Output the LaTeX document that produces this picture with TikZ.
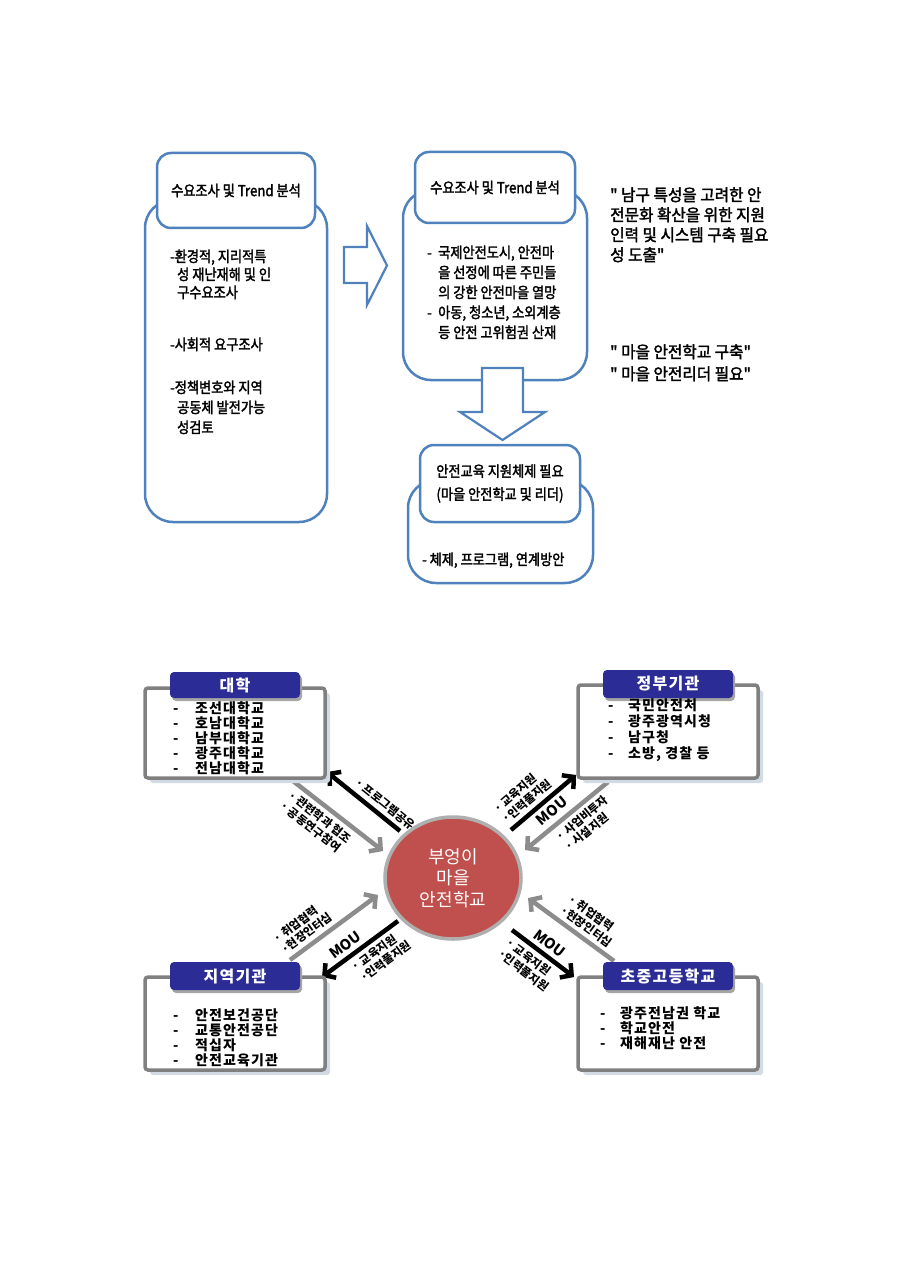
\documentclass[tikz,border=0pt]{standalone}
\usepackage{fontspec}
\setmainfont{Noto Sans CJK KR}
\newfontfamily\krn[FakeStretch=0.88,FakeBold=2]{Noto Sans CJK KR}
\newfontfamily\krq[FakeStretch=0.95,FakeBold=2]{Noto Sans CJK KR}
\newfontfamily\krsp[LetterSpace=8]{Noto Sans CJK KR}
\usetikzlibrary{arrows.meta,shapes.geometric}
\definecolor{topblue}{RGB}{79,129,189}
\definecolor{navy}{RGB}{44,44,150}
\definecolor{boxgray}{RGB}{128,128,128}
\definecolor{arrowgray}{RGB}{140,140,140}
\definecolor{circred}{RGB}{192,80,77}
\definecolor{circgray}{RGB}{175,175,175}
\definecolor{shadowc}{RGB}{210,218,230}
\tikzset{
  outerbox/.style={draw=topblue, line width=2.5pt, rounded corners=28pt, fill=white, inner sep=0},
  headbox/.style={draw=topblue, line width=2.5pt, rounded corners=14pt, fill=white, inner sep=0, align=center, font=\krn\fontsize{15}{23}\selectfont},
  toptxt/.style={font=\krn\fontsize{15}{18}\selectfont, anchor=base west, inner sep=0},
  quotetxt/.style={font=\krq\fontsize{16.5}{20}\selectfont, anchor=base west, inner sep=0},
  blockarrow/.style={draw=topblue, line width=2.2pt, fill=white, line join=miter},
  itemtxt/.style={font=\krsp\bfseries\fontsize{14}{15}\selectfont, anchor=base west, inner sep=0},
  orgbox/.style={draw=boxgray, line width=3.5pt, fill=white, rounded corners=3pt, inner sep=0},
  orgshadow/.style={fill=shadowc, rounded corners=3pt, inner sep=0},
  orghead/.style={fill=navy, rounded corners=4pt, text=white, inner sep=0, font=\krsp\bfseries\fontsize{16}{18}\selectfont},
  headshadow/.style={fill=black!35, rounded corners=4pt, inner sep=0},
  blackarrow/.style={draw=black, line width=4.5pt, -{Straight Barb[length=8pt,width=18pt]}},
  grayarrow/.style={draw=arrowgray, line width=4.5pt, -{Straight Barb[length=8pt,width=18pt]}},
  lbl/.style={font=\bfseries\fontsize{11.5}{13.5}\selectfont, sloped, align=left, inner sep=4pt},
  moulbl/.style={font=\bfseries\fontsize{14.5}{14.5}\selectfont, sloped, inner sep=4pt}
}
\begin{document}
\begin{tikzpicture}[x=1pt,y=-1pt]
\useasboundingbox (0,0) rectangle (900,1273);
\fill[white] (0,0) rectangle (900,1273);

% ---------- top section ----------
\node[outerbox, minimum width=182, minimum height=322] (lout) at (236,361) {};
\node[headbox, minimum width=158, minimum height=75] (lhead) at (236,190.5) {수요조사 및 Trend 분석};
\node[toptxt] (l1) at (170,262) {-환경적, 지리적특};
\node[toptxt] (l2) at (177,280) {성 재난재해 및 인};
\node[toptxt] (l3) at (177,298) {구수요조사};
\node[toptxt] (l4) at (170,350) {-사회적 요구조사};
\node[toptxt] (l5) at (170,393) {-정책변호와 지역};
\node[toptxt] (l6) at (177,413) {공동체 발전가능};
\node[toptxt] (l7) at (177,433) {성검토};

\draw[blockarrow] (344,247) -- (367,247) -- (367,226) -- (387,265.5) -- (367,305) -- (367,283) -- (344,283) -- cycle;

\node[outerbox, minimum width=184, minimum height=190] (mout) at (495,285) {};
\node[headbox, minimum width=160, minimum height=71] (mhead) at (495,187.5) {수요조사 및 Trend 분석};
\node[toptxt] (m1) at (427,258) {\makebox[11pt][l]{-}국제안전도시, 안전마};
\node[toptxt] (m2) at (438,278) {을 선정에 따른 주민들};
\node[toptxt] (m3) at (438,298) {의 강한 안전마을 열망};
\node[toptxt] (m4) at (427,318) {\makebox[11pt][l]{-}아동, 청소년, 소외계층};
\node[toptxt] (m5) at (438,338) {등 안전 고위험권 산재};

\draw[blockarrow] (482,368) -- (523,368) -- (523,412) -- (545,412) -- (502.5,440) -- (460,412) -- (482,412) -- cycle;

\node[outerbox, minimum width=185, minimum height=103] (bout) at (500.5,531.5) {};
\node[headbox, minimum width=160, minimum height=77] (bhead) at (500,483.5) {안전교육 지원체제 필요\\(마을 안전학교 및 리더)};
\node[toptxt] (b1) at (422,565) {- 체제, 프로그램, 연계방안};

\node[quotetxt] (q1) at (610,201) {" 남구 특성을 고려한 안};
\node[quotetxt] (q2) at (610,221) {전문화 확산을 위한 지원};
\node[quotetxt] (q3) at (610,241) {인력 및 시스템 구축 필요};
\node[quotetxt] (q4) at (610,261) {성 도출"};
\node[quotetxt] (q5) at (610,358) {" 마을 안전학교 구축"};
\node[quotetxt] (q6) at (610,380) {" 마을 안전리더 필요"};

% ---------- bottom section ----------
\coordinate (ulb1) at (400,831); \coordinate (ulb2) at (327,772);
\coordinate (ulg1) at (293,781); \coordinate (ulg2) at (383,851);
\coordinate (urb1) at (511,830); \coordinate (urb2) at (576,775);
\coordinate (urg1) at (608,782); \coordinate (urg2) at (525,850);
\coordinate (llg1) at (290,960); \coordinate (llg2) at (378,895);
\coordinate (llb1) at (398,921); \coordinate (llb2) at (322,977);
\coordinate (lrg1) at (614,961); \coordinate (lrg2) at (528,898);
\coordinate (lrb1) at (512,930); \coordinate (lrb2) at (574,977);

\draw[blackarrow] (ulb1) -- node[lbl, above, pos=0.3] (t1) {· 프로그램공유} (ulb2);
\draw[grayarrow] (ulg1) -- node[lbl, below, pos=0.38] (t2) {· 관련학과 협조\\· 공동연구참여} (ulg2);
\draw[blackarrow] (urb1) -- node[lbl, above, pos=0.36] (t3) {· 교육지원\\·인력풀지원} node[moulbl, below, pos=0.51] (mou1) {MOU} (urb2);
\draw[grayarrow] (urg1) -- node[lbl, below, pos=0.4] (t4) {· 사업비투자\\· 시설지원} (urg2);
\draw[grayarrow] (llg1) -- node[lbl, above, pos=0.27] (t5) {· 취업협력\\·현장인터십} (llg2);
\draw[blackarrow] (llb1) -- node[lbl, below, pos=0.36] (t6) {· 교육지원\\·인력풀지원} node[moulbl, above, pos=0.6] (mou2) {MOU} (llb2);
\draw[grayarrow] (lrg1) -- node[lbl, above, pos=0.4] (t7) {· 취업협력\\·현장인터십} (lrg2);
\draw[blackarrow] (lrb1) -- node[lbl, below, pos=0.43] (t8) {· 교육지원\\·인력풀지원} node[moulbl, above, pos=0.49] (mou3) {MOU} (lrb2);

\node[ellipse, draw=circgray, line width=3.5pt, fill=circred, minimum width=136, minimum height=122, inner sep=0, text=white, align=center, font=\fontsize{18}{21.5}\selectfont] (circ) at (453,878) {부엉이\\마을\\안전학교};

% 대학
\node[orgshadow, minimum width=180, minimum height=90] (uas) at (240,738) {};
\node[orgbox, minimum width=180, minimum height=90] (ua) at (235,733) {};
\node[headshadow, minimum width=130, minimum height=26] (uahs) at (237,688) {};
\node[orghead, minimum width=130, minimum height=26] (uah) at (235,685) {대학};
\foreach \t [count=\i] in {조선대학교,호남대학교,남부대학교,광주대학교,전남대학교}
  \node[itemtxt] (ua\i) at (173,713+15*\i-15) {\makebox[22pt][l]{-}\t};

% 정부기관
\node[orgshadow, minimum width=180, minimum height=93] (gvs) at (673,736.5) {};
\node[orgbox, minimum width=180, minimum height=93] (gv) at (668,731.5) {};
\node[headshadow, minimum width=130, minimum height=28] (gvhs) at (670,687) {};
\node[orghead, minimum width=130, minimum height=28] (gvh) at (668,684) {정부기관};
\foreach \t [count=\i] in {국민안전처,광주광역시청,남구청,{소방, 경찰 등}}
  \node[itemtxt] (gv\i) at (608,710+16*\i-16) {\makebox[20pt][l]{-}\t};

% 지역기관
\node[orgshadow, minimum width=180, minimum height=93] (rgs) at (240,1028.5) {};
\node[orgbox, minimum width=180, minimum height=93] (rg) at (235,1023.5) {};
\node[headshadow, minimum width=130, minimum height=28] (rghs) at (237,979) {};
\node[orghead, minimum width=130, minimum height=28] (rgh) at (235,976) {지역기관};
\foreach \t [count=\i] in {안전보건공단,교통안전공단,적십자,안전교육기관}
  \node[itemtxt] (rg\i) at (173,1020+15*\i-15) {\makebox[22pt][l]{-}\t};

% 초중고등학교
\node[orgshadow, minimum width=180, minimum height=93] (scs) at (673,1028.5) {};
\node[orgbox, minimum width=180, minimum height=93] (sc) at (668,1023.5) {};
\node[headshadow, minimum width=130, minimum height=28] (schs) at (670,979) {};
\node[orghead, minimum width=130, minimum height=28] (sch) at (668,976) {초중고등학교};
\foreach \t [count=\i] in {광주전남권 학교,학교안전,재해재난 안전}
  \node[itemtxt] (sc\i) at (600,1018+15*\i-15) {\makebox[20pt][l]{-}\t};
\end{tikzpicture}
\end{document}
